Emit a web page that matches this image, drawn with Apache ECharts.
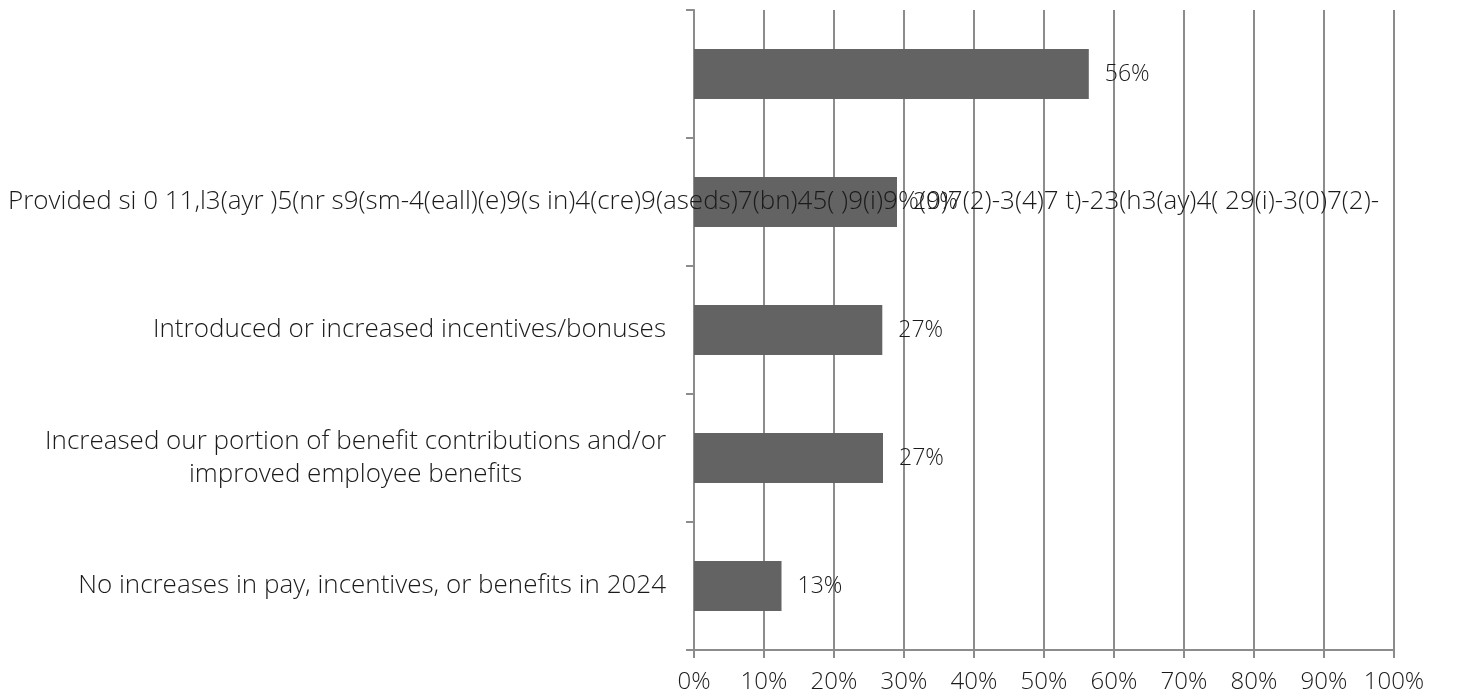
<!DOCTYPE html>
<html>
<head>
<meta charset="utf-8">
<script src="https://cdn.jsdelivr.net/npm/echarts@6/dist/echarts.min.js"></script>
<style>
  html, body { margin: 0; padding: 0; background: #fff; }
  #chart { width: 1471px; height: 700px; }
</style>
</head>
<body>
<div id="chart"></div>
<script>
// categories, top to bottom
const categories = [
  '',
  'Provided si 0 11,l3(ayr )5(nr s9(sm-4(eall)(e)9(s in)4(cre)9(aseds)7(bn)45( )9(i)9%(0)7(2)-3(4)7 t)-23(h3(ay)4( 29(i)-3(0)7(2)-',
  'Introduced or increased incentives/bonuses',
  'Increased our portion of benefit contributions and/or\nimproved employee benefits',
  'No increases in pay, incentives, or benefits in 2024'
];
const values = [56.4, 29, 26.9, 27, 12.5];
const xTicks = [0, 10, 20, 30, 40, 50, 60, 70, 80, 90, 100];

// the garbled label runs left-to-right across the plot, so it sits on its own axis
const overflowIndex = 1;

const FONT = '"Open Sans", sans-serif';
const WEIGHT = 300;
const CAT_SIZE = 26;

const chart = echarts.init(document.getElementById('chart'));

const option = {
  animation: false,
  grid: { left: 694, right: 77, top: 10, bottom: 50 },
  xAxis: {
    type: 'value',
    min: xTicks[0],
    max: xTicks[xTicks.length - 1],
    interval: 10,
    axisLine: { show: true, lineStyle: { color: '#8c8c8c', width: 2 } },
    axisTick: { show: true, length: 8, lineStyle: { color: '#8c8c8c', width: 2 } },
    splitLine: { show: true, lineStyle: { color: '#8c8c8c', width: 2 } },
    axisLabel: {
      formatter: '{value}%',
      fontFamily: FONT,
      fontWeight: WEIGHT,
      fontSize: 24,
      color: '#1a1a1a',
      margin: 20
    }
  },
  yAxis: [
    {
      type: 'category',
      data: categories,
      inverse: true,
      axisLine: { show: true, lineStyle: { color: '#8c8c8c', width: 2 } },
      axisTick: { show: true, length: 8, lineStyle: { color: '#8c8c8c', width: 2 } },
      splitLine: { show: false },
      axisLabel: {
        interval: 0,
        margin: 28,
        fontFamily: FONT,
        fontWeight: WEIGHT,
        fontSize: CAT_SIZE,
        color: '#1a1a1a',
        lineHeight: 33,
        formatter: function (v, i) {
          if (i === overflowIndex || !v) return '';
          return v.split('\n').map(function (s) { return '{c|' + s + '}'; }).join('\n');
        },
        rich: {
          c: { align: 'center', fontFamily: FONT, fontWeight: WEIGHT, fontSize: CAT_SIZE, color: '#1a1a1a', lineHeight: 33 }
        }
      }
    },
    {
      type: 'category',
      data: categories,
      inverse: true,
      position: 'left',
      z: 10,
      axisLine: { show: false },
      axisTick: { show: false },
      splitLine: { show: false },
      axisLabel: {
        interval: 0,
        align: 'left',
        margin: 686,
        fontFamily: FONT,
        fontWeight: WEIGHT,
        fontSize: CAT_SIZE,
        color: '#1a1a1a',
        formatter: function (v, i) { return i === overflowIndex ? v : ''; }
      }
    }
  ],
  series: [{
    type: 'bar',
    yAxisIndex: 0,
    data: values,
    barWidth: 50,
    itemStyle: { color: '#636363' },
    label: {
      show: true,
      position: 'right',
      distance: 16,
      fontFamily: FONT,
      fontWeight: WEIGHT,
      fontSize: 23,
      color: '#1a1a1a',
      formatter: function (p) { return Math.round(p.value) + '%'; }
    }
  }]
};

chart.setOption(option);
</script>
</body>
</html>
